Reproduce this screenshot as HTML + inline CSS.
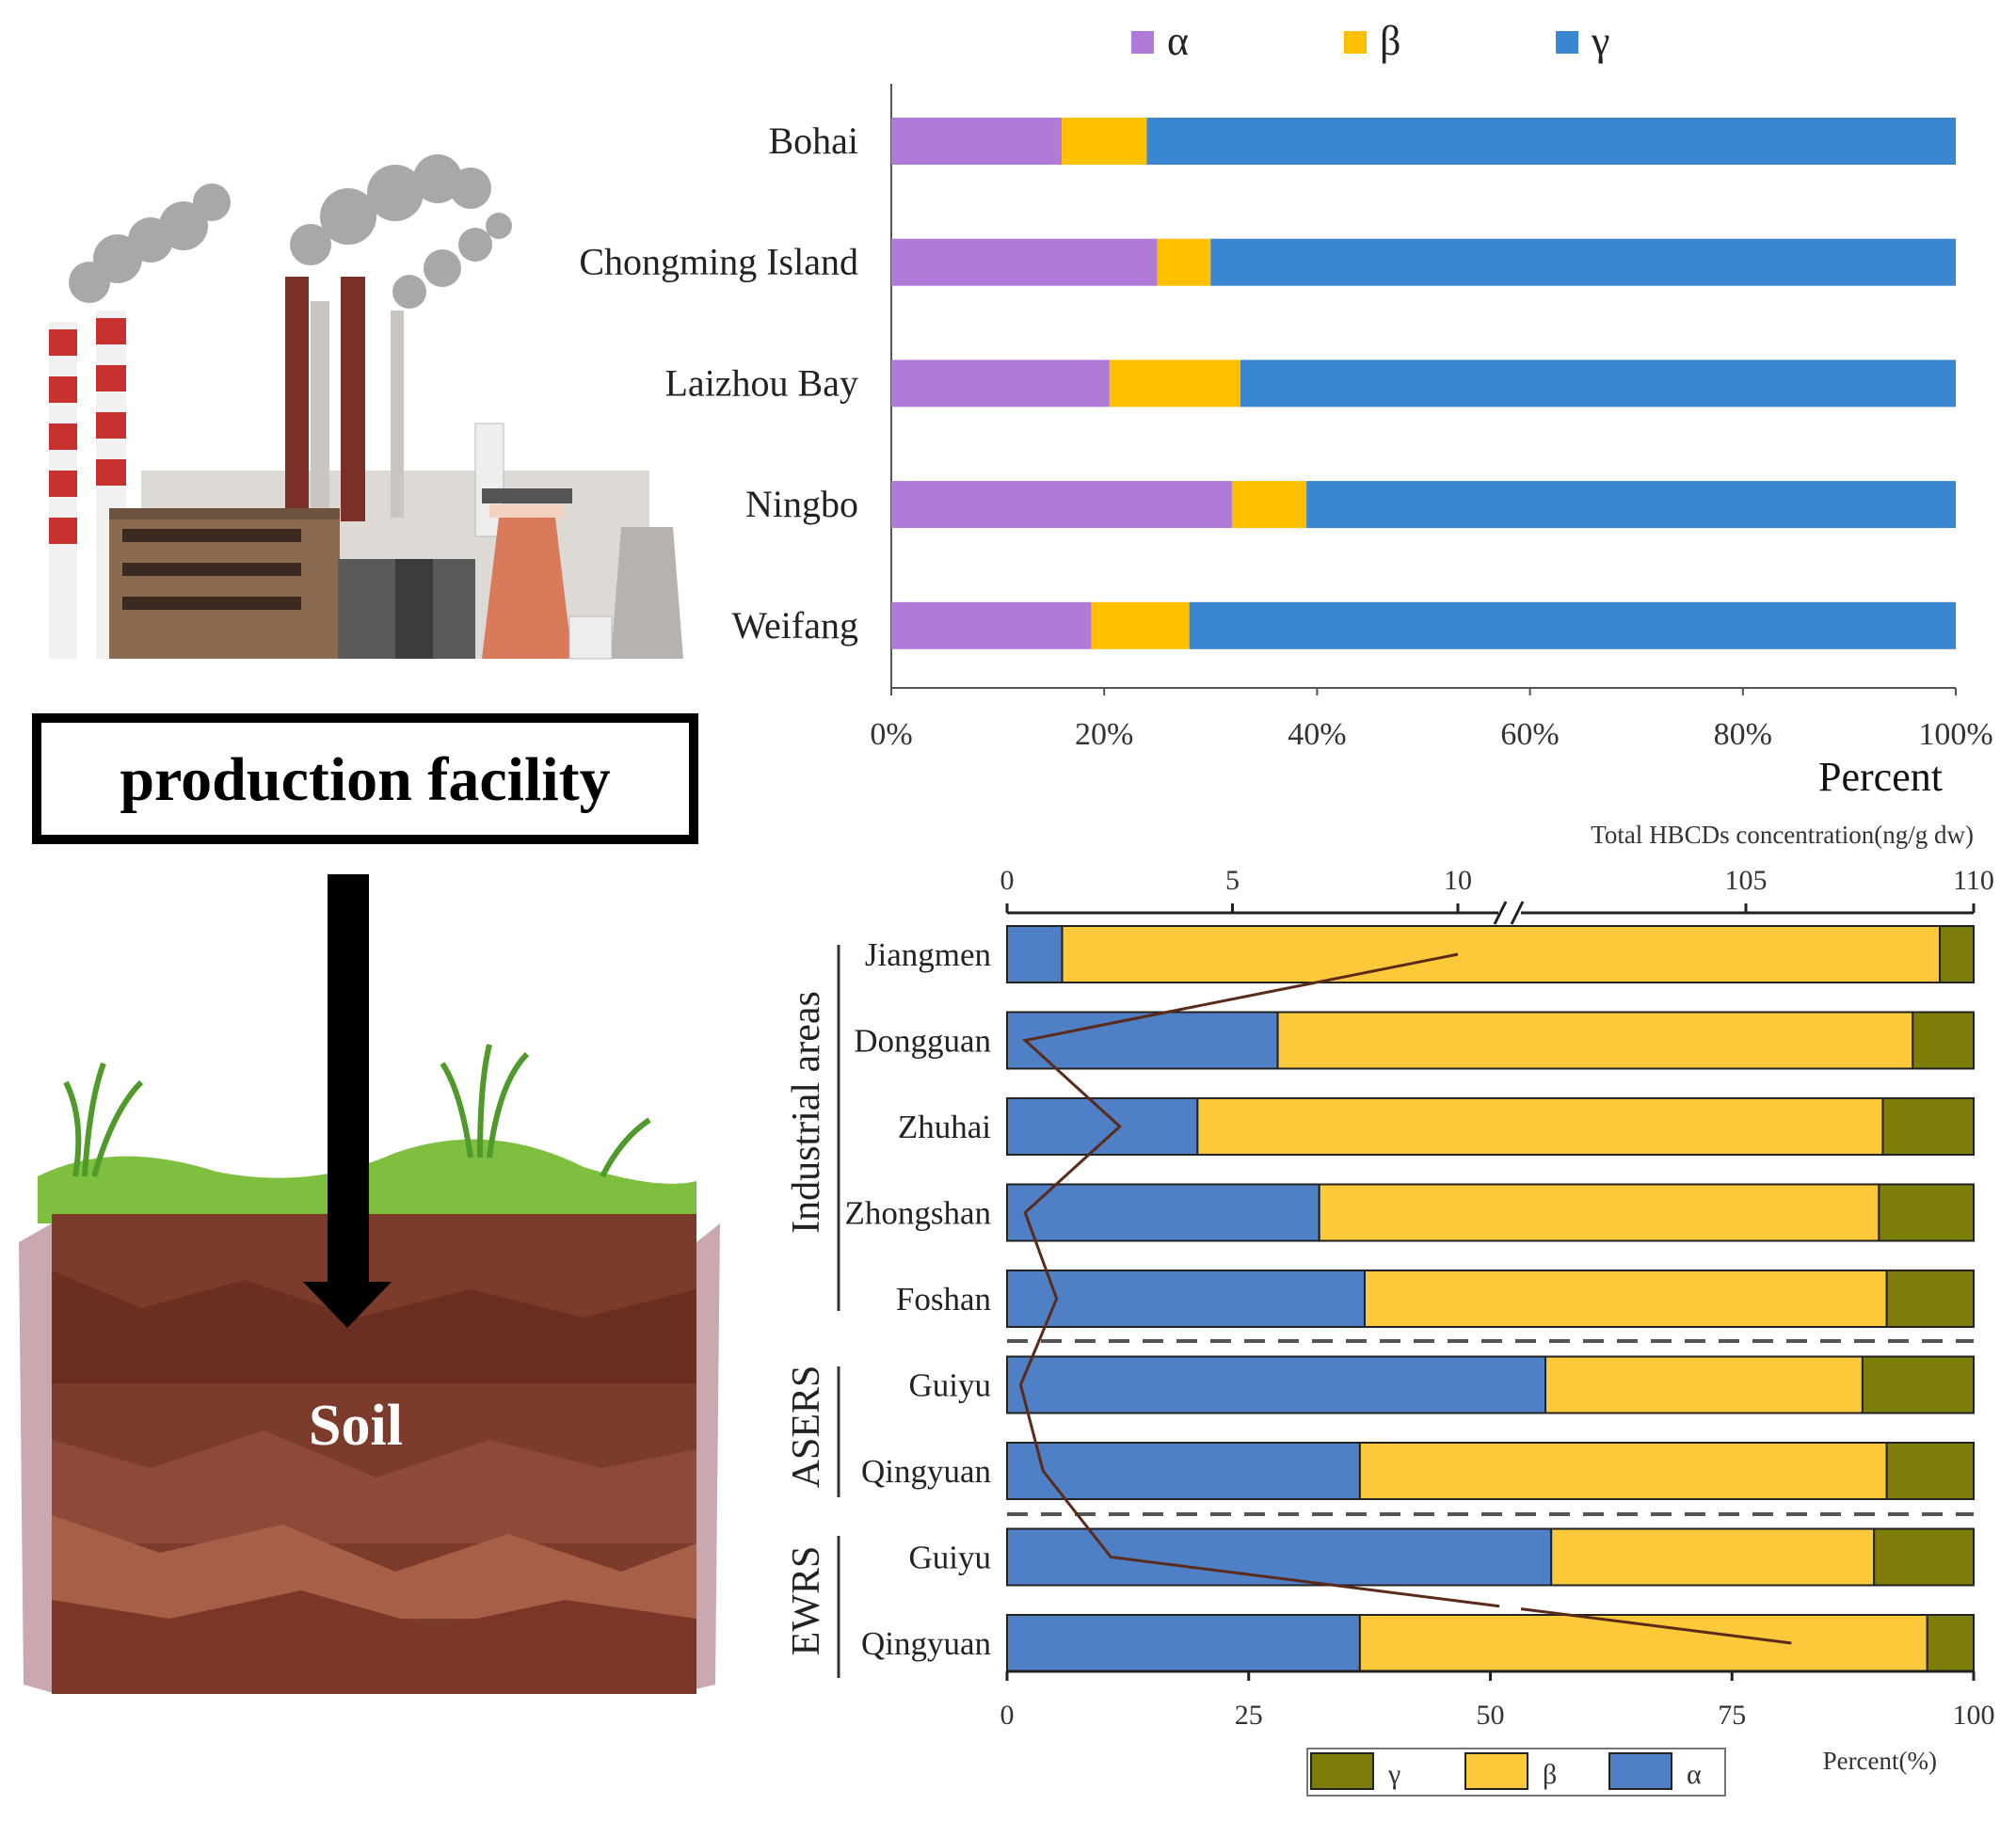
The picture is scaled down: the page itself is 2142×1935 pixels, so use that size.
<!DOCTYPE html>
<html><head><meta charset="utf-8"><style>
html,body{margin:0;padding:0;background:#fff;}
svg{display:block;font-family:"Liberation Serif",serif;}
</style></head><body>
<svg id="fig" width="2142" height="1935" viewBox="0 0 2142 1935" xmlns="http://www.w3.org/2000/svg">
<!-- Factory illustration -->
<g>
  <g fill="#9a9a9a" opacity="0.85">
    <circle cx="95" cy="300" r="22"/><circle cx="125" cy="275" r="26"/><circle cx="160" cy="255" r="24"/><circle cx="195" cy="240" r="26"/><circle cx="225" cy="215" r="20"/>
    <circle cx="330" cy="260" r="22"/><circle cx="370" cy="230" r="30"/><circle cx="420" cy="205" r="30"/><circle cx="465" cy="190" r="26"/><circle cx="500" cy="200" r="22"/>
    <circle cx="435" cy="310" r="18"/><circle cx="470" cy="285" r="20"/><circle cx="505" cy="260" r="18"/><circle cx="530" cy="240" r="14"/>
  </g>
  <rect x="150" y="500" width="540" height="200" fill="#ddd9d4"/>
  <rect x="330" y="320" width="20" height="230" fill="#c9c5c0"/>
  <rect x="415" y="330" width="14" height="220" fill="#c9c5c0"/>
  <rect x="505" y="450" width="30" height="120" fill="#eeeeee" stroke="#bbb"/>
  <path d="M649 700 L660 560 L715 560 L726 700 Z" fill="#b5b2af"/>
  <rect x="52" y="342" width="30" height="358" fill="#f1f1f1"/>
  <g fill="#c8322e"><rect x="52" y="350" width="30" height="28"/><rect x="52" y="400" width="30" height="28"/><rect x="52" y="450" width="30" height="28"/><rect x="52" y="500" width="30" height="28"/><rect x="52" y="550" width="30" height="28"/></g>
  <rect x="102" y="330" width="32" height="370" fill="#f1f1f1"/>
  <g fill="#c8322e"><rect x="102" y="338" width="32" height="28"/><rect x="102" y="388" width="32" height="28"/><rect x="102" y="438" width="32" height="28"/><rect x="102" y="488" width="32" height="28"/></g>
  <rect x="303" y="294" width="25" height="260" fill="#7a2f27"/>
  <rect x="362" y="294" width="26" height="260" fill="#7a2f27"/>
  <rect x="116" y="545" width="245" height="155" fill="#8a6a50"/>
  <rect x="116" y="540" width="245" height="12" fill="#6e5240"/>
  <g fill="#3b2a20">
    <rect x="130" y="562" width="190" height="14"/><rect x="130" y="598" width="190" height="14"/><rect x="130" y="634" width="190" height="14"/>
  </g>
  <rect x="359" y="594" width="146" height="106" fill="#5a5a5a"/>
  <rect x="420" y="594" width="40" height="106" fill="#3c3c3c"/>
  <rect x="512" y="519" width="96" height="16" fill="#555"/>
  <path d="M512 700 L530 550 L590 550 L608 700 Z" fill="#d97a5a"/>
  <rect x="520" y="536" width="80" height="14" fill="#f3d2c2"/>
  <rect x="605" y="655" width="45" height="45" fill="#eee" stroke="#bbb"/>
</g>
<!-- production facility box -->
<rect x="39" y="763" width="698" height="129" fill="#fff" stroke="#000" stroke-width="10"/>
<text x="388" y="850" text-anchor="middle" font-size="66" font-weight="bold">production facility</text>
<!-- soil -->
<g>
  <path d="M20 1320 L55 1300 L60 1800 L25 1790 Z" fill="#c9a8b0"/>
  <path d="M740 1320 L765 1300 L760 1790 L735 1796 Z" fill="#c9a8b0"/>
  <path d="M40 1250 Q120 1210 230 1245 Q330 1265 420 1225 Q520 1190 620 1240 Q700 1265 740 1255 L740 1300 L40 1300 Z" fill="#7fbf3f"/>
  <rect x="55" y="1290" width="685" height="510" fill="#7d3b2c"/>
  <path d="M55 1350 L150 1390 L260 1360 L380 1400 L500 1370 L620 1400 L740 1370 L740 1470 L55 1470 Z" fill="#6a2f22"/>
  <path d="M55 1530 L160 1560 L280 1520 L400 1570 L520 1530 L640 1560 L740 1540 L740 1640 L55 1640 Z" fill="#8e4a38"/>
  <path d="M55 1610 L170 1650 L300 1620 L420 1670 L540 1630 L660 1670 L740 1640 L740 1720 L55 1720 Z" fill="#a85f48"/>
  <path d="M55 1700 L180 1720 L320 1690 L460 1730 L600 1700 L740 1720 L740 1800 L55 1800 Z" fill="#7a3627"/>
  <g stroke="#4f9a2a" stroke-width="6" fill="none">
    <path d="M80 1250 Q90 1190 70 1150"/><path d="M100 1250 Q120 1180 150 1150"/><path d="M90 1250 Q95 1170 110 1130"/>
    <path d="M500 1230 Q490 1160 470 1130"/><path d="M520 1230 Q530 1150 560 1120"/><path d="M510 1230 Q510 1150 520 1110"/>
    <path d="M640 1250 Q660 1210 690 1190"/>
  </g>
  <text x="378" y="1535" text-anchor="middle" font-size="62" font-weight="bold" fill="#fff">Soil</text>
</g>
<!-- arrow -->
<g>
  <rect x="348" y="929" width="44" height="440" fill="#000"/>
  <path d="M322 1362 L416 1362 L369 1411 Z" fill="#000"/>
</g>
<g id="top-chart"></g>
<g id="bottom-chart"></g>
</svg>
<script>
// ---- top chart data ----
const topCats = ["Bohai","Chongming Island","Laizhou Bay","Ningbo","Weifang"];
const topAlpha = [16, 25, 20.5, 32, 18.8];
const topBeta = [8, 5, 12.3, 7, 9.2];
const topGamma = [76, 70, 67.2, 61, 72];
const topTicks = [0,20,40,60,80,100];
// ---- bottom chart data ----
const botCats = ["Jiangmen","Dongguan","Zhuhai","Zhongshan","Foshan","Guiyu","Qingyuan","Guiyu","Qingyuan"];
const botAlpha = [5.7, 28, 19.7, 32.3, 37, 55.7, 36.5, 56.3, 36.5];
const botBeta = [90.8, 65.7, 70.9, 57.9, 54, 32.8, 54.5, 33.4, 58.7];
const botGamma = [3.5, 6.3, 9.4, 9.8, 9, 11.5, 9, 10.3, 4.8];
const botTotal = [10, 0.4, 2.5, 0.4, 1.1, 0.3, 0.8, 2.3, 106];
const botTicks = [0,25,50,75,100];
const topConcTicks = [0,5,10,105,110];

const NS="http://www.w3.org/2000/svg";
function mk(parent,tag,attrs,text){const e=document.createElementNS(NS,tag);for(const k in attrs)e.setAttribute(k,attrs[k]);if(text!==undefined)e.textContent=text;parent.appendChild(e);return e;}

// ---- top chart ----
(function(){
  const g=document.getElementById('top-chart');
  const x0=947,x1=2078,yTop=89,yBot=731;
  const xs=v=>x0+(x1-x0)*v/100;
  const ys=i=>150+i*128.7;
  const bh=50;
  const cols=["#b07ad9","#ffc000","#3a86d0"];
  const yl=mk(g,'line',{x1:x0,y1:yTop,x2:x0,y2:yBot,stroke:'#555','stroke-width':2});
  
  
  const xl=mk(g,'line',{x1:x0,y1:yBot,x2:x1,y2:yBot,stroke:'#555','stroke-width':2});
  
  
  topTicks.forEach(t=>{
    const tk=mk(g,'line',{x1:xs(t),y1:yBot,x2:xs(t),y2:yBot+8,stroke:'#555','stroke-width':2});
    
    
    const tl=mk(g,'text',{x:xs(t),y:yBot+60,'text-anchor':'middle','font-size':34,fill:'#333'},t+'%');
    
    
  });
  const at=mk(g,'text',{x:1998,y:840,'text-anchor':'middle','font-size':44,fill:'#111'},'Percent');
  
  
  topCats.forEach((c,i)=>{
    const y=ys(i);
    const vals=[topAlpha[i],topBeta[i],topGamma[i]];
    let acc=0;
    vals.forEach((v,k)=>{
      const r=mk(g,'rect',{x:xs(acc),y:y-bh/2,width:xs(acc+v)-xs(acc),height:bh,fill:cols[k]});
      
      
      acc+=v;
    });
    const lb=mk(g,'text',{x:912,y:y+13,'text-anchor':'end','font-size':40,fill:'#222'},c);
    
    
  });
  const lx=[1202,1428,1653], ln=["α","β","γ"];
  ln.forEach((n,k)=>{
    const s=mk(g,'rect',{x:lx[k],y:33,width:24,height:24,fill:cols[k]});
    
    
    const t=mk(g,'text',{x:lx[k]+38,y:58,'font-size':44,fill:'#222'},n);
    
    
  });
})();

// ---- bottom chart ----
(function(){
  const g=document.getElementById('bottom-chart');
  const x0=1070,x1=2097,yTop=970,yBot=1776;
  const xs=v=>x0+(x1-x0)*v/100;
  const cs=v=> v<=11 ? x0+(1549-x0)*v/10 : 1855+(2097-1855)*(v-105)/5;
  const ys=i=>1014+i*91.5;
  const bh=60;
  const cols=["#4f7fc4","#fcc93a","#7d7d0a"];
  botCats.forEach((c,i)=>{
    const y=ys(i);
    const vals=[botAlpha[i],botBeta[i],botGamma[i]];
    let acc=0;
    vals.forEach((v,k)=>{
      const r=mk(g,'rect',{x:xs(acc),y:y-bh/2,width:xs(acc+v)-xs(acc),height:bh,fill:cols[k],stroke:'#222','stroke-width':2});
      
      
      acc+=v;
    });
    const lb=mk(g,'text',{x:1053,y:y+12,'text-anchor':'end','font-size':35,fill:'#222'},c);
    
    
  });
  [1425,1609].forEach(y=>{
    const d=mk(g,'line',{x1:x0,y1:y,x2:x1,y2:y,stroke:'#555','stroke-width':4,'stroke-dasharray':'22 14'});
    
    
  });
  const xl=mk(g,'line',{x1:x0,y1:yBot,x2:x1,y2:yBot,stroke:'#222','stroke-width':3});
  
  
  const tl1=mk(g,'line',{x1:x0,y1:yTop,x2:1592,y2:yTop,stroke:'#222','stroke-width':3});
  
  
  const tl2=mk(g,'line',{x1:1616,y1:yTop,x2:x1,y2:yTop,stroke:'#222','stroke-width':3});
  
  
  const br=mk(g,'path',{d:'M1588 982 L1600 958 M1606 982 L1618 958',stroke:'#222','stroke-width':3,fill:'none'});
  
  
  botTicks.forEach(t=>{
    const tk=mk(g,'line',{x1:xs(t),y1:yBot,x2:xs(t),y2:yBot+10,stroke:'#222','stroke-width':3});
    
    
    const l=mk(g,'text',{x:xs(t),y:yBot+56,'text-anchor':'middle','font-size':30,fill:'#333'},t);
    
    
  });
  topConcTicks.forEach(t=>{
    const tk=mk(g,'line',{x1:cs(t),y1:yTop,x2:cs(t),y2:yTop-10,stroke:'#222','stroke-width':3});
    
    
    const l=mk(g,'text',{x:cs(t),y:yTop-25,'text-anchor':'middle','font-size':30,fill:'#333'},t);
    
    
  });
  const tt=mk(g,'text',{x:2097,y:896,'text-anchor':'end','font-size':27,fill:'#333'},'Total HBCDs concentration(ng/g dw)');
  
  
  const pt=mk(g,'text',{x:2058,y:1880,'text-anchor':'end','font-size':27,fill:'#333'},'Percent(%)');
  
  
  const pts=botTotal.map((v,i)=>[cs(v),ys(i)]);
  const n=pts.length;
  const a=pts[n-2], b=pts[n-1];
  const gx1=1593, gx2=1616;
  const interp=x=>a[1]+(b[1]-a[1])*(x-a[0])/(b[0]-a[0]);
  let d='M'+pts.slice(0,n-1).map(p=>p[0].toFixed(1)+' '+p[1].toFixed(1)).join(' L');
  d+=' L'+gx1+' '+interp(gx1).toFixed(1)+' M'+gx2+' '+interp(gx2).toFixed(1)+' L'+b[0].toFixed(1)+' '+b[1].toFixed(1);
  const ln=mk(g,'path',{d:d,stroke:'#5a2a1a','stroke-width':3,fill:'none'});
  
  
  const groups=[["Industrial areas",1182,1004,1393],["ASERS",1516,1452,1591],["EWRS",1701,1632,1783]];
  groups.forEach(gr=>{
    const l=mk(g,'line',{x1:891,y1:gr[2],x2:891,y2:gr[3],stroke:'#333','stroke-width':3});
    
    
    const t=mk(g,'text',{x:0,y:0,'text-anchor':'middle','font-size':42,fill:'#222',transform:'translate(870,'+gr[1]+') rotate(-90)'},gr[0]);
    
    
  });
  const lb=mk(g,'rect',{x:1389,y:1858,width:444,height:50,fill:'#fff',stroke:'#777','stroke-width':2});
  
  
  const lg=[["γ",cols[2],1393],["β",cols[1],1557],["α",cols[0],1710]];
  lg.forEach(e=>{
    const s=mk(g,'rect',{x:e[2],y:1863,width:66,height:38,fill:e[1],stroke:'#222','stroke-width':2});
    
    
    const t=mk(g,'text',{x:e[2]+82,y:1895,'font-size':30,fill:'#333'},e[0]);
    
    
  });
})();
</script>
</body></html>
